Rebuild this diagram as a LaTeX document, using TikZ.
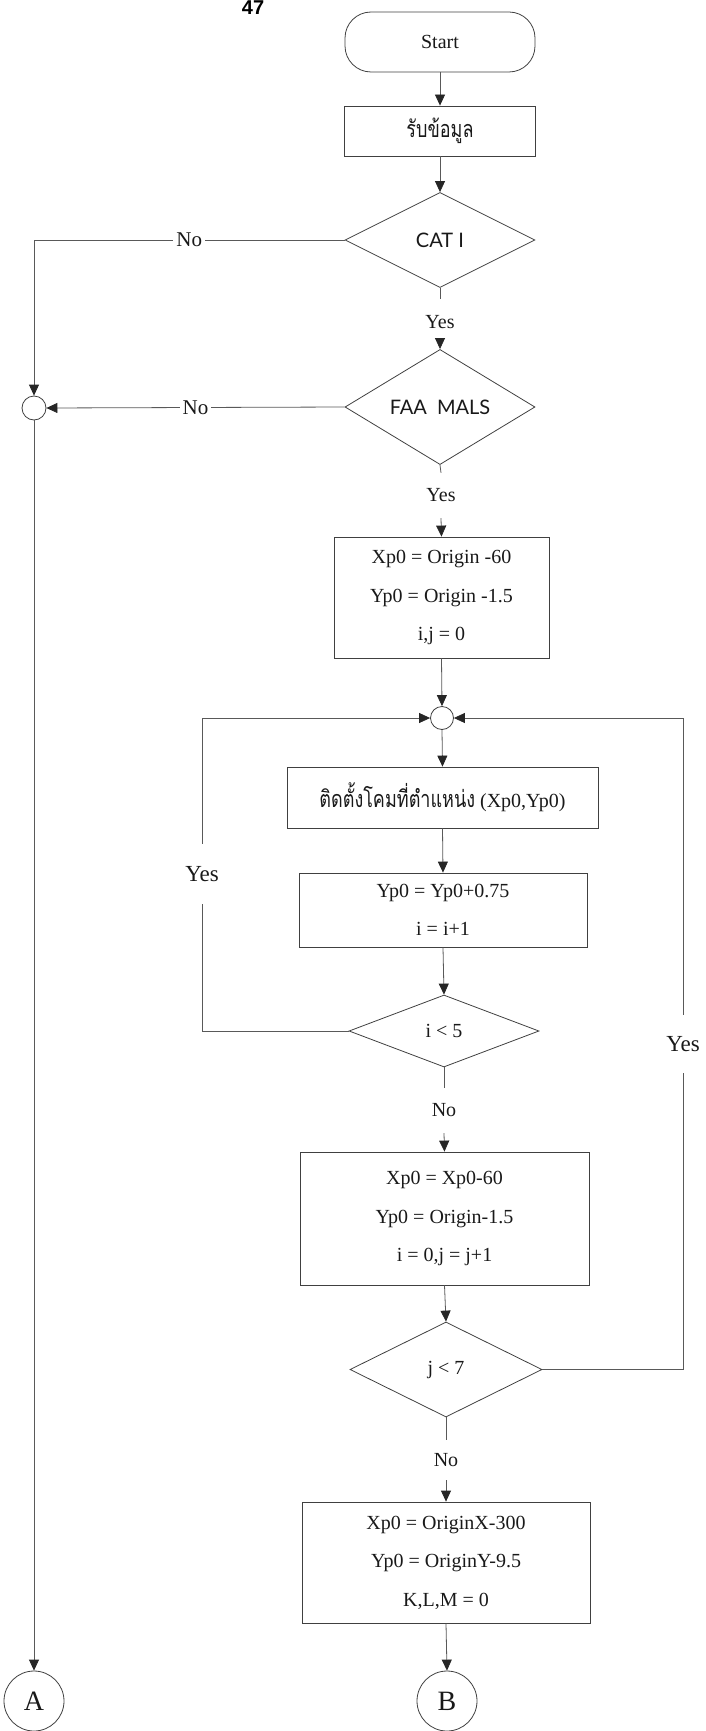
\documentclass[tikz,border=0pt]{standalone}
\usepackage{fontspec}
\setmainfont{Liberation Serif}
\newfontfamily\thaifont[Script=Thai]{Loma}
\newfontfamily\labsans{Lato}
\newfontfamily\pagefont{Liberation Sans}
\usetikzlibrary{shapes.geometric,arrows.meta}
\newcommand{\thaitxt}[1]{\scalebox{1}[1.3]{\thaifont\fontsize{18}{20}\selectfont #1}}
\begin{document}
\begin{tikzpicture}[x=1pt,y=-1pt,
  line/.style={draw=black!65,line width=0.8pt},
  arr/.style={draw=black!65,line width=0.8pt,-{Triangle[width=10pt,length=11pt,color=black!85]}},
  box/.style={draw=black!75,line width=0.8pt,rectangle,inner sep=0pt,align=center,
    font=\fontsize{20}{38.5}\selectfont,text=black!90},
  term/.style={box,rounded corners=26pt},
  dec/.style={draw=black!75,line width=0.8pt,diamond,inner sep=0pt,align=center,
    font=\fontsize{20}{24}\selectfont,text=black!90},
  jn/.style={draw=black!75,line width=0.8pt,circle,inner sep=0pt,minimum size=23pt},
  circ/.style={draw=black!75,line width=0.8pt,circle,inner sep=0pt,minimum size=60pt,
    font=\fontsize{28}{30}\selectfont,text=black!90},
  gap/.style={inner sep=0pt,font=\fontsize{20}{24}\selectfont,text=black!90},
  onl/.style={fill=white,inner xsep=3pt,inner ysep=0pt,font=\fontsize{21}{24}\selectfont,text=black!90}
]
\useasboundingbox (0,0) rectangle (705,1731);

\node[anchor=north,inner sep=0pt,font=\pagefont\bfseries\fontsize{20}{20}\selectfont] (pg) at (253,1) {47};

\node[term,minimum width=190pt,minimum height=60pt] (start) at (440,42) {Start};
\node[box,minimum width=191pt,minimum height=50pt] (inp) at (440,131) {\thaitxt{รับข้อมูล}};
\node[dec,minimum width=190pt,minimum height=95pt] (cat) at (440,240) {\labsans CAT I};
\node[gap,minimum height=45pt] (y1) at (440,322) {Yes};
\node[dec,minimum width=190pt,minimum height=96pt] (faa) at (440,407) {\labsans FAA\enspace MALS};
\node[gap,minimum height=45pt] (y2) at (441,495.5) {Yes};
\node[box,minimum width=215pt,minimum height=121pt] (b1) at (441.5,597.5)
  {Xp0 = Origin -60\\Yp0 = Origin -1.5\\i,j = 0};
\node[jn] (j1) at (442,718) {};
\node[box,minimum width=311pt,minimum height=61pt] (b2) at (442.5,797.5)
  {\thaitxt{ติดตั้งโคมที่ตำแหน่ง} (Xp0,Yp0)};
\node[box,minimum width=288pt,minimum height=74pt] (b3) at (443,910)
  {Yp0 = Yp0+0.75\\i = i+1};
\node[dec,minimum width=190pt,minimum height=72pt] (d5) at (444,1031) {i < 5};
\node[gap,minimum height=45pt] (n3) at (444,1110.5) {No};
\node[box,minimum width=289pt,minimum height=133pt] (b4) at (444.5,1218.5)
  {Xp0 = Xp0-60\\Yp0 = Origin-1.5\\i = 0,j = j+1};
\node[dec,minimum width=192pt,minimum height=95pt] (d7) at (446,1369.5) {j < 7};
\node[gap,minimum height=40pt] (n4) at (446,1460) {No};
\node[box,minimum width=288pt,minimum height=121pt] (b5) at (446,1562.5)
  {Xp0 = OriginX-300\\Yp0 = OriginY-9.5\\K,L,M = 0};
\node[circ] (B) at (447,1701) {B};
\node[jn,minimum size=24pt] (c1) at (34,408) {};
\node[circ] (A) at (34,1701) {A};
\node[gap,minimum height=60pt,font=\fontsize{23}{26}\selectfont] (ly) at (202,874) {Yes};
\node[gap,minimum height=58pt,font=\fontsize{23}{26}\selectfont] (ry) at (683,1044) {Yes};

\draw[arr] (start) -- (inp);
\draw[arr] (inp) -- (cat);
\draw[line] (cat.south) -- (y1.north);
\draw[arr] (y1.south) -- (faa.north);
\draw[arr] (cat.west) -- node[onl,pos=0.5]{No} (cat.west -| c1) -- (c1.north);
\draw[arr] (faa.west) -- node[onl,pos=0.5]{No} (c1.east);
\draw[arr] (c1.south) -- (A.north);
\draw[line] (faa.south) -- (y2.north);
\draw[arr] (y2.south) -- (b1.north);
\draw[arr] (b1.south) -- (j1.north);
\draw[arr] (j1.south) -- (b2.north);
\draw[arr] (b2.south) -- (b3.north);
\draw[arr] (b3.south) -- (d5.north);
\draw[line] (d5.south) -- (n3.north);
\draw[arr] (n3.south) -- (b4.north);
\draw[arr] (b4.south) -- (d7.north);
\draw[line] (d7.south) -- (n4.north);
\draw[arr] (n4.south) -- (b5.north);
\draw[arr] (b5.south) -- (B.north);
\draw[line] (d5.west) -| (ly.south);
\draw[arr] (ly.north) |- (j1.west);
\draw[line] (d7.east) -| (ry.south);
\draw[arr] (ry.north) |- (j1.east);
\end{tikzpicture}
\end{document}
